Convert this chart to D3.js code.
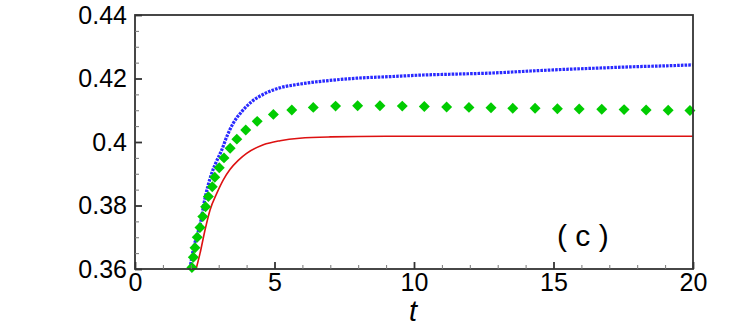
<!DOCTYPE html>
<html>
<head>
<meta charset="utf-8">
<script src="https://cdn.jsdelivr.net/npm/d3@7/dist/d3.min.js"></script>
<style>
  html, body { margin: 0; padding: 0; background: #fff; }
  svg { display: block; }
  text { font-family: "Liberation Sans", Arial, Helvetica, sans-serif; }
</style>
</head>
<body>
<svg id="chart" width="747" height="334"></svg>
<script>
// ---- data ----
const xTicks = [0, 5, 10, 15, 20];
const yTicks = [0.36, 0.38, 0.4, 0.42, 0.44];
const yTickLabels = ["0.36", "0.38", "0.4", "0.42", "0.44"];

// red solid line
const redT = [2.19, 2.33, 2.51, 2.69, 2.93, 3.16, 3.41, 3.7, 4.0, 4.6, 5.2, 5.9, 7.0, 9.0, 12.0, 16.0, 20.0];
const redV = [0.3600, 0.3649, 0.3723, 0.3786, 0.3838, 0.3880, 0.3914, 0.3942, 0.3964, 0.3991, 0.4004, 0.4012, 0.4016, 0.4018, 0.4018, 0.4018, 0.4018];

// blue dotted line
const blueT = [1.97, 2.11, 2.21, 2.33, 2.51, 2.71, 2.89, 3.11, 3.29, 3.52, 3.82, 4.18, 4.66, 5.20, 5.80, 6.99, 7.95, 9.14, 10.33, 11.53, 12.72, 14.27, 15.47, 16.67, 17.86, 19.06, 20.0];
const blueV = [0.3602, 0.3670, 0.3702, 0.3739, 0.3823, 0.3891, 0.3933, 0.3975, 0.4017, 0.4059, 0.4095, 0.4127, 0.4153, 0.4171, 0.4181, 0.4194, 0.4201, 0.4206, 0.4211, 0.4214, 0.4217, 0.4224, 0.4229, 0.4233, 0.4237, 0.4240, 0.4243];

// green diamonds
const greenT = [2.04, 2.09, 2.15, 2.23, 2.33, 2.43, 2.53, 2.63, 2.77, 2.86, 3.02, 3.19, 3.41, 3.65, 3.97, 4.38, 4.96, 5.62, 6.39, 7.19, 7.98, 8.78, 9.58, 10.37, 11.17, 11.97, 12.76, 13.54, 14.34, 15.14, 15.92, 16.73, 17.53, 18.32, 19.11, 19.89];
const greenV = [0.3605, 0.3637, 0.3667, 0.3700, 0.3731, 0.3765, 0.3796, 0.3828, 0.3859, 0.3889, 0.3919, 0.3950, 0.3980, 0.4009, 0.4038, 0.4065, 0.4087, 0.4101, 0.4109, 0.4113, 0.4114, 0.4114, 0.4113, 0.4112, 0.4110, 0.4109, 0.4108, 0.4106, 0.4106, 0.4105, 0.4104, 0.4103, 0.4102, 0.4101, 0.4100, 0.4099];

const panelLabel = "( c )";
const xLabel = "t";

// ---- layout ----
const svg = d3.select("#chart");
const mLeft = 135, mRight = 693, mTop = 15, mBottom = 269;

const x = d3.scaleLinear().domain([0, 20]).range([mLeft, mRight]);
const y = d3.scaleLinear().domain([0.36, 0.44]).range([mBottom, mTop]);

const clipId = "plotclip";
svg.append("defs").append("clipPath").attr("id", clipId)
  .append("rect").attr("x", mLeft).attr("y", mTop).attr("width", mRight - mLeft).attr("height", mBottom - mTop);

const plot = svg.append("g").attr("clip-path", `url(#${clipId})`);

// red line
plot.append("path")
  .datum(redT.map((t, i) => [t, redV[i]]))
  .attr("fill", "none")
  .attr("stroke", "#dd1111")
  .attr("stroke-width", 1.6)
  .attr("d", d3.line().x(d => x(d[0])).y(d => y(d[1])).curve(d3.curveMonotoneX));

// blue dotted line
plot.append("path")
  .datum(blueT.map((t, i) => [t, blueV[i]]))
  .attr("fill", "none")
  .attr("stroke", "#2a2aff")
  .attr("stroke-width", 3.2)
  .attr("stroke-dasharray", "2.6,1.1")
  .attr("d", d3.line().x(d => x(d[0])).y(d => y(d[1])).curve(d3.curveMonotoneX));

// green diamonds
const diamond = d3.symbol().type(d3.symbolSquare).size(60);
svg.append("g").selectAll("path")
  .data(greenT.map((t, i) => [t, greenV[i]]))
  .join("path")
  .attr("d", diamond)
  .attr("fill", "#00cc00")
  .attr("transform", d => `translate(${x(d[0])},${y(d[1])}) rotate(45)`);

// frame
svg.append("rect")
  .attr("x", mLeft).attr("y", mTop)
  .attr("width", mRight - mLeft).attr("height", mBottom - mTop)
  .attr("fill", "none").attr("stroke", "#333").attr("stroke-width", 1.8);

// x axis (ticks inward)
const xMinor = d3.range(0, 21, 1).filter(v => v % 5 !== 0);
const xAxis = d3.axisBottom(x).tickValues(xTicks).tickSize(-7).tickPadding(4).tickFormat(d3.format("d"));
const gx = svg.append("g").attr("transform", `translate(0,${mBottom})`).call(xAxis);
gx.select(".domain").remove();
gx.selectAll(".tick line").attr("stroke", "#333").attr("stroke-width", 1.8);
gx.selectAll(".tick text").attr("font-size", 25).attr("fill", "#000")
  .attr("font-family", "'Liberation Sans', Arial, sans-serif");
const gxm = svg.append("g").attr("transform", `translate(0,${mBottom})`)
  .call(d3.axisBottom(x).tickValues(xMinor).tickSize(-4).tickFormat(""));
gxm.select(".domain").remove();
gxm.selectAll(".tick line").attr("stroke", "#777").attr("stroke-width", 1);

// y axis
const yMinor = d3.range(0, 17).map(i => 0.36 + i * 0.005).filter((v, i) => i % 4 !== 0);
const yAxis = d3.axisLeft(y).tickValues(yTicks).tickSize(-7).tickPadding(8)
  .tickFormat((d, i) => yTickLabels[i]);
const gy = svg.append("g").attr("transform", `translate(${mLeft},0)`).call(yAxis);
gy.select(".domain").remove();
gy.selectAll(".tick line").attr("stroke", "#333").attr("stroke-width", 1.8);
gy.selectAll(".tick text").attr("font-size", 25).attr("fill", "#000")
  .attr("font-family", "'Liberation Sans', Arial, sans-serif");
const gym = svg.append("g").attr("transform", `translate(${mLeft},0)`)
  .call(d3.axisLeft(y).tickValues(yMinor).tickSize(-4).tickFormat(""));
gym.select(".domain").remove();
gym.selectAll(".tick line").attr("stroke", "#777").attr("stroke-width", 1);

// x label
svg.append("text")
  .attr("x", 413)
  .attr("y", 321)
  .attr("text-anchor", "middle")
  .attr("font-family", "'Liberation Serif', 'Times New Roman', serif")
  .attr("font-style", "italic")
  .attr("font-size", 29)
  .attr("fill", "#000")
  .text(xLabel);

// panel label
svg.append("text")
  .attr("x", 557)
  .attr("y", 246)
  .attr("font-size", 30)
  .attr("fill", "#000")
  .style("white-space", "pre")
  .text(panelLabel);
</script>
</body>
</html>
